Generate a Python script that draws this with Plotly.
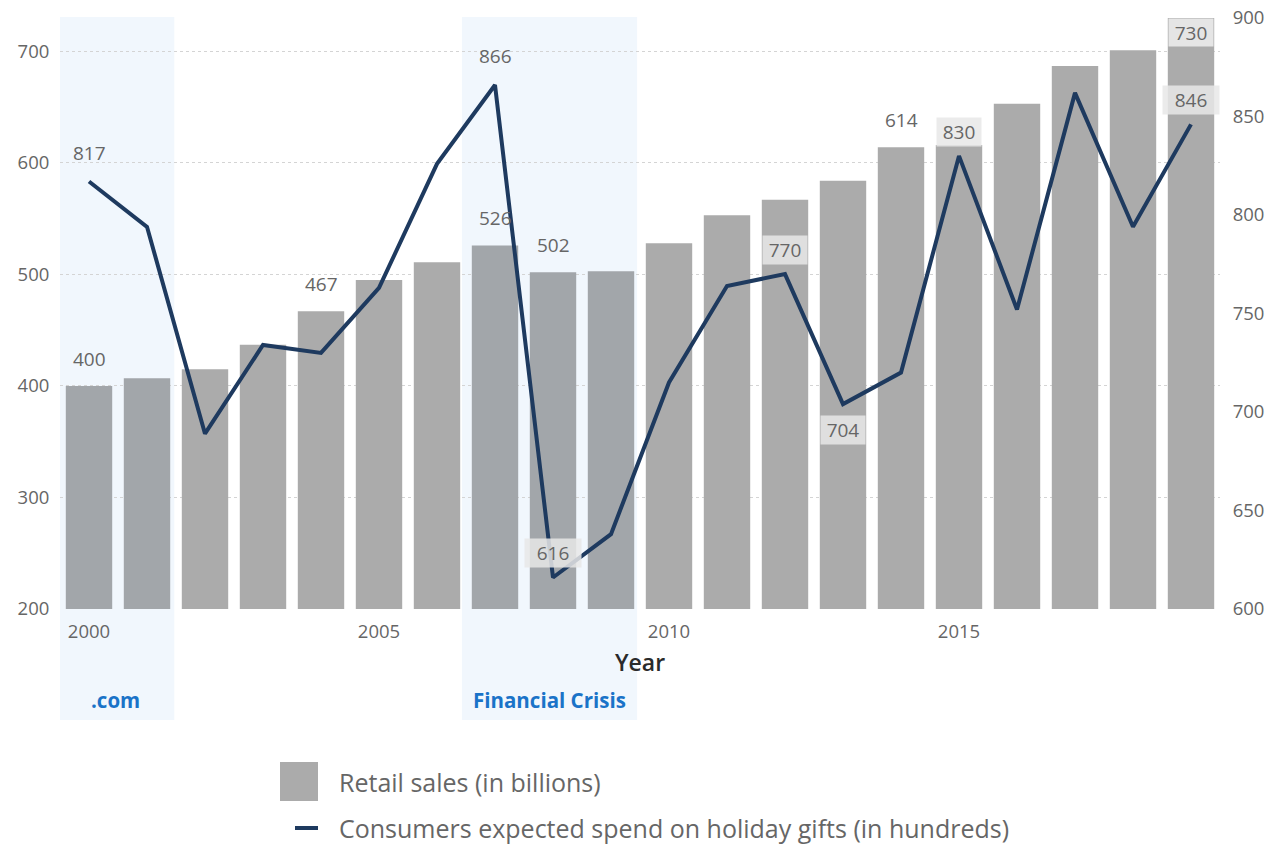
import plotly.graph_objects as go

years = list(range(2000, 2020))
retail_sales = [400, 407, 415, 437, 467, 495, 511, 526, 502, 503,
                528, 553, 567, 584, 614, 616, 653, 687, 701, 730]
holiday_spend = [817, 794, 689, 734, 730, 763, 826, 866, 616, 638,
                 715, 764, 770, 704, 720, 830, 752, 862, 794, 846]

bar_label_years = [2000, 2004, 2007, 2008, 2014, 2019]
line_label_years = [2000, 2007, 2008, 2012, 2013, 2015, 2019]
inside_bar_labels = [2019]
boxed_line_labels = [2008, 2012, 2013, 2015, 2019]
wide_boxes = [2008, 2019]
below_line_labels = [2013]

bands = [(".com", 1999.43, 2001.47), ("Financial Crisis", 2006.43, 2009.45)]

bar_name = "Retail sales (in billions)"
line_name = "Consumers expected spend on holiday gifts (in hundreds)"

FONT = "Open Sans"
GREY = "#ababab"
BAND_BAR = "#a2a6aa"
NAVY = "#1e3a5f"
TXT = "#666666"
BOX = "rgba(232,232,232,0.85)"

# plot area in pixels: x 60..1220, y 18..609
def px(x):
    return (x - 60) / 1160.0

def py(y):
    return (609 - y) / 591.0

def in_band(y):
    return any(a <= y <= b for _, a, b in bands)

bar_colors = [BAND_BAR if in_band(y) else GREY for y in years]

fig = go.Figure()
fig.add_trace(go.Bar(
    x=years, y=retail_sales, name=bar_name,
    marker=dict(color=bar_colors, line=dict(width=0)), yaxis="y",
))
fig.add_trace(go.Scatter(
    x=years, y=holiday_spend, yaxis="y2", mode="lines", name=line_name,
    line=dict(color=NAVY, width=4),
))

shapes = []
annotations = []
for label, a, b in bands:
    shapes.append(dict(type="rect", xref="x", yref="paper", x0=a, x1=b,
                       y0=py(720), y1=py(17), fillcolor="rgba(225,238,250,0.45)",
                       line=dict(width=0), layer="below"))
    annotations.append(dict(x=(a + b) / 2, y=py(700), xref="x", yref="paper",
                            text="<b>%s</b>" % label, showarrow=False,
                            yanchor="middle",
                            font=dict(family=FONT, size=20.5, color="#1a73c8")))

for yr, v in zip(years, retail_sales):
    if yr in bar_label_years:
        inside = yr in inside_bar_labels
        annotations.append(dict(
            x=yr, y=v, xref="x", yref="y", text=str(v), showarrow=False,
            yanchor="top" if inside else "bottom",
            yshift=0 if inside else 11,
            font=dict(family=FONT, size=19, color=TXT),
            bgcolor="rgba(232,232,232,0.95)" if inside else None,
            width=40 if inside else None, height=23 if inside else None,
            borderpad=2))

for yr, v in zip(years, holiday_spend):
    if yr in line_label_years:
        boxed = yr in boxed_line_labels
        below = yr in below_line_labels
        annotations.append(dict(
            x=yr, y=v, xref="x", yref="y2", text=str(v), showarrow=False,
            yanchor="top" if below else "bottom",
            yshift=(-11 if below else (9 if boxed else 13)),
            font=dict(family=FONT, size=19, color=TXT),
            bgcolor=BOX if boxed else None,
            width=(52 if yr in wide_boxes else 40) if boxed else None,
            height=24 if boxed else None, borderpad=2))

annotations.append(dict(x=0.5, y=py(662), xref="paper", yref="paper",
                        text="Year", showarrow=False, yanchor="middle",
                        font=dict(family=FONT, size=23, color="#2a2a2a", weight=600)))

# legend (drawn in paper coordinates below the plot)
shapes.append(dict(type="rect", xref="paper", yref="paper",
                   x0=px(280), x1=px(318), y0=py(801), y1=py(762),
                   fillcolor=GREY, line=dict(width=0)))
shapes.append(dict(type="line", xref="paper", yref="paper",
                   x0=px(295), x1=px(318), y0=py(828), y1=py(828),
                   line=dict(color=NAVY, width=4)))
for name, yy in [(bar_name, 782), (line_name, 828)]:
    annotations.append(dict(x=px(337), y=py(yy), xref="paper", yref="paper",
                            text=name, showarrow=False, xanchor="left",
                            yanchor="middle",
                            font=dict(family=FONT, size=25, color=TXT)))

tickfont = dict(family=FONT, size=18.5, color=TXT)
fig.update_layout(
    width=1281, height=844,
    margin=dict(l=60, r=61, t=18, b=235, autoexpand=False),
    paper_bgcolor="white", plot_bgcolor="rgba(0,0,0,0)",
    font=dict(family=FONT, color=TXT),
    bargap=0.2,
    showlegend=False,
    xaxis=dict(range=[1999.5, 2019.5], tickvals=[2000, 2005, 2010, 2015],
               showgrid=False, zeroline=False, showline=False, tickfont=tickfont,
               ticks="outside", ticklen=6, tickcolor="rgba(0,0,0,0)"),
    yaxis=dict(range=[200, 730], tickvals=[200, 300, 400, 500, 600, 700],
               showgrid=True, gridcolor="#d4d4d4", griddash="dot", gridwidth=1,
               zeroline=False, showline=False, tickfont=tickfont,
               ticks="outside", ticklen=6, tickcolor="rgba(0,0,0,0)"),
    yaxis2=dict(range=[600, 900], tickvals=[600, 650, 700, 750, 800, 850, 900],
                overlaying="y", side="right", showgrid=False, zeroline=False,
                showline=False, tickfont=tickfont,
                ticks="outside", ticklen=8, tickcolor="rgba(0,0,0,0)"),
    shapes=shapes, annotations=annotations,
)

fig.write_html("out.html")
